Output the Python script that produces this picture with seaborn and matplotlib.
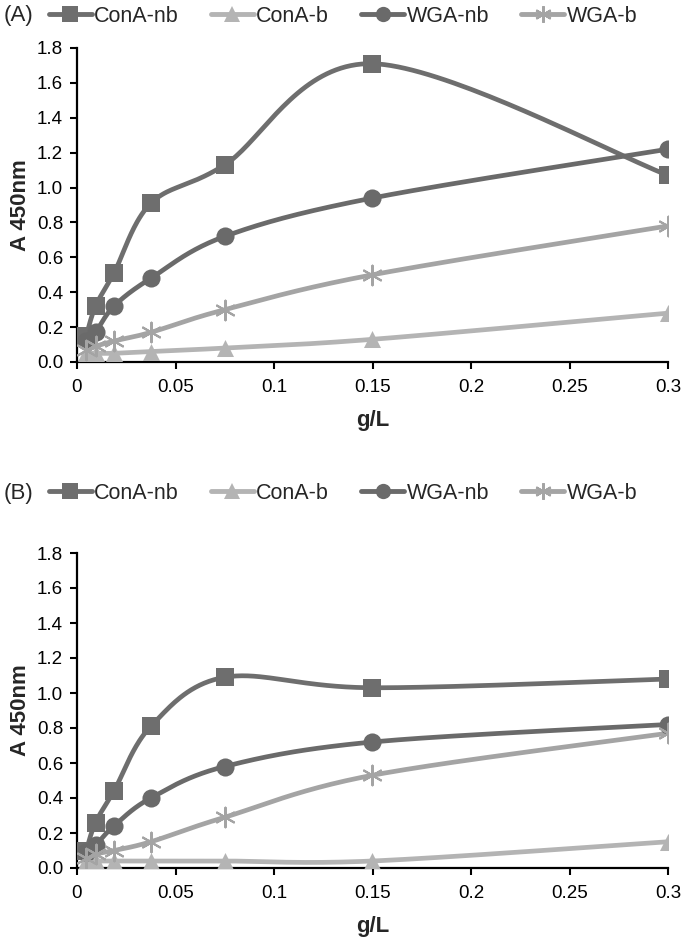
import numpy as np
import pandas as pd
import matplotlib
matplotlib.use("Agg")
import matplotlib.pyplot as plt
from matplotlib.lines import Line2D
import seaborn as sns

# concentrations (g/L)
conc = [0.0047, 0.0094, 0.01875, 0.0375, 0.075, 0.15, 0.3]
series = ["ConA-nb", "ConA-b", "WGA-nb", "WGA-b"]

# panel (A)
a_cona_nb = [0.15, 0.32, 0.51, 0.91, 1.13, 1.71, 1.07]
a_cona_b = [0.05, 0.05, 0.05, 0.06, 0.08, 0.13, 0.28]
a_wga_nb = [0.12, 0.17, 0.32, 0.48, 0.72, 0.94, 1.22]
a_wga_b = [0.07, 0.09, 0.12, 0.17, 0.30, 0.50, 0.78]

# panel (B)
b_cona_nb = [0.10, 0.26, 0.44, 0.81, 1.09, 1.03, 1.08]
b_cona_b = [0.04, 0.04, 0.04, 0.04, 0.04, 0.04, 0.15]
b_wga_nb = [0.09, 0.13, 0.24, 0.40, 0.58, 0.72, 0.82]
b_wga_b = [0.06, 0.08, 0.10, 0.15, 0.29, 0.53, 0.77]

colors = {"ConA-nb": "#6e6e6e", "ConA-b": "#b4b4b4",
          "WGA-nb": "#6a6a6a", "WGA-b": "#a4a4a4"}
markers = {"ConA-nb": "s", "ConA-b": "^", "WGA-nb": "o", "WGA-b": (6, 2, 0)}
msizes = {"ConA-nb": 150, "ConA-b": 150, "WGA-nb": 170, "WGA-b": 200}

sns.set_style("ticks")
plt.rcParams['font.family'] = ['Liberation Sans', 'DejaVu Sans']


def smooth(x, y, sx, sy, n=40):
    # Excel-like smoothed line (Catmull-Rom Bezier in screen space)
    px = np.asarray(x) * sx
    py = np.asarray(y) * sy
    P = np.column_stack([px, py])
    out = []
    for i in range(len(P) - 1):
        p0 = P[i - 1] if i > 0 else P[i]
        p1 = P[i]
        p2 = P[i + 1]
        p3 = P[i + 2] if i + 2 < len(P) else P[i + 1]
        c1 = p1 + (p2 - p0) / 6.0
        c2 = p2 - (p3 - p1) / 6.0
        t = np.linspace(0, 1, n)[:, None]
        seg = ((1 - t) ** 3) * p1 + 3 * ((1 - t) ** 2) * t * c1 \
            + 3 * (1 - t) * t ** 2 * c2 + t ** 3 * p2
        out.append(seg)
    out = np.vstack(out)
    return out[:, 0] / sx, out[:, 1] / sy


def draw_panel(ax, data, tag, leg_y):
    rows = []
    for name, vals in zip(series, data):
        for c, v in zip(conc, vals):
            rows.append({"g/L": c, "A450": v, "series": name})
    df = pd.DataFrame(rows)
    sx, sy = 591 / 0.3, 314 / 1.8
    for name, vals in zip(series, data):
        xs, ys = smooth(conc, vals, sx, sy)
        ax.plot(xs, ys, color=colors[name], lw=3.4, zorder=2,
                solid_capstyle="round")
    for name in series:
        sub = df[df["series"] == name]
        star = name == "WGA-b"
        kw = dict(linewidth=1.5, edgecolor=colors[name]) if star else dict(linewidth=0)
        sns.scatterplot(data=sub, x="g/L", y="A450", ax=ax,
                        color=colors[name], marker=markers[name],
                        s=msizes[name], zorder=3, legend=False, **kw)
    ax.set_xlim(0, 0.3)
    ax.set_ylim(0, 1.8)
    ax.set_xticks(np.arange(0, 0.31, 0.05))
    ax.set_xticklabels(["0", "0.05", "0.1", "0.15", "0.2", "0.25", "0.3"])
    ax.set_yticks(np.arange(0, 1.81, 0.2))
    ax.set_yticklabels([f"{v:.1f}" for v in np.arange(0, 1.81, 0.2)])
    ax.tick_params(axis="both", labelsize=13.5, width=1.5, length=5,
                   direction="out", colors="black")
    ax.tick_params(axis="x", pad=7)
    ax.tick_params(axis="y", pad=5)
    for sp in ["left", "bottom"]:
        ax.spines[sp].set_linewidth(1.6)
        ax.spines[sp].set_color("black")
    sns.despine(ax=ax)
    ax.set_xlabel("g/L", fontsize=16, fontweight="bold", labelpad=10)
    ax.set_ylabel("A 450nm", fontsize=16, fontweight="bold", labelpad=4)

    handles = [Line2D([0], [0], color=colors[n], lw=3.5, marker=markers[n],
                      markersize=11 if n != "WGA-b" else 12,
                      markeredgewidth=1.5 if n == "WGA-b" else 0,
                      markeredgecolor=colors[n])
               for n in series]
    fig = ax.figure
    fig.text(4 / 683, leg_y, tag, fontsize=16, va="center", ha="left")
    fig.legend(handles, series, loc="center left",
               bbox_to_anchor=(40 / 683, leg_y), ncol=4, frameon=False,
               fontsize=15.5, handlelength=2.0, handletextpad=0.1,
               columnspacing=1.5, borderaxespad=0)


fig = plt.figure(figsize=(6.83, 9.43), dpi=100)
W, H = 683, 943
axA = fig.add_axes([77 / W, 1 - 362 / H, 591 / W, 314 / H])
axB = fig.add_axes([77 / W, 1 - 868 / H, 591 / W, 315 / H])

draw_panel(axA, [a_cona_nb, a_cona_b, a_wga_nb, a_wga_b], "(A)", 1 - 16 / H)
draw_panel(axB, [b_cona_nb, b_cona_b, b_wga_nb, b_wga_b], "(B)", 1 - 493 / H)

fig.savefig("out.png", dpi=100)
